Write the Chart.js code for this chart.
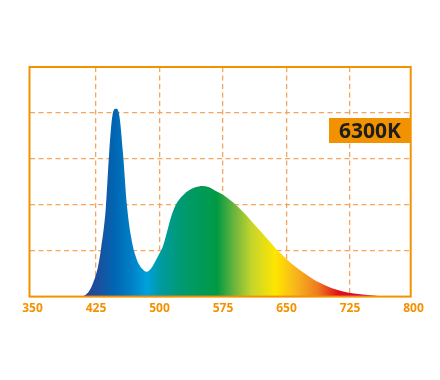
<!DOCTYPE html>
<html>
<head>
<meta charset="utf-8">
<script src="https://cdn.jsdelivr.net/npm/chart.js@4"></script>
<style>
  body { margin: 0; background: #fff; }
  #wrap { position: relative; width: 440px; height: 380px; }
  #tag {
    position: absolute; left: 329px; top: 118px; width: 82px; height: 25px;
    background: #f39200; color: #1d1d1b;
    font: bold 21px "Open Sans", sans-serif; line-height: 25px; text-align: center;
  }
</style>
</head>
<body>
<div id="wrap">
  <canvas id="chart" width="440" height="380"></canvas>
  <div id="tag">6300K</div>
</div>
<script>
// spectrum (wavelength nm / relative intensity)
var wavelengths = [397, 407, 412, 417, 422, 427, 431, 436.5, 440.5, 444.5, 448.5, 452.5, 457, 461.5, 466.5, 471.5, 476.5, 481.5, 485, 489.5, 494.5, 499.5, 504.5, 509.5, 514.5, 518.5, 523.5, 528.5, 534.5, 542.5, 550.5, 558.5, 566.5, 575, 583, 592, 602, 612, 622, 632, 638.5, 646.5, 656.5, 669.5, 681.5, 689.5, 701.5, 709.5, 722, 737, 749, 762, 777, 800];
var intensity = [0, 0, 0.03, 0.12, 0.32, 0.62, 1.05, 1.9, 3.1, 3.95, 4.09, 3.95, 3.1, 2.0, 1.3, 0.9, 0.68, 0.57, 0.54, 0.6, 0.75, 0.92, 1.12, 1.45, 1.78, 1.97, 2.12, 2.22, 2.31, 2.38, 2.41, 2.38, 2.3, 2.22, 2.11, 1.97, 1.78, 1.57, 1.37, 1.16, 1.02, 0.88, 0.71, 0.53, 0.38, 0.3, 0.2, 0.15, 0.09, 0.05, 0.03, 0.01, 0, 0];
var xTicks = [350, 425, 500, 575, 650, 725, 800];
var yTicks = [0, 1, 2, 3, 4, 5];

// colour of the fill along the wavelength axis
var spectrumStops = [
  [402, "#2b3990"], [427, "#1c4f9d"], [447, "#0066b3"], [467, "#0080c6"],
  [485, "#00a0dc"], [502, "#009aa0"], [527, "#009a70"], [568, "#009a44"],
  [588, "#6ab43e"], [609, "#c5d52c"], [637, "#ffe600"], [662, "#f7b31c"],
  [687, "#ee7b22"], [711, "#e30f17"], [737, "#d6004f"], [767, "#c8004b"]
];

var orange = "#f39200";
var gridOrange = "#f5a55c";

function spectrumFill(context) {
  var chart = context.chart;
  var area = chart.chartArea;
  if (!area) return "#0066b3";
  var xs = chart.scales.x;
  var g = chart.ctx.createLinearGradient(area.left, 0, area.right, 0);
  var w = area.right - area.left;
  spectrumStops.forEach(function (s) {
    var t = (xs.getPixelForValue(s[0]) - area.left) / w;
    g.addColorStop(Math.min(1, Math.max(0, t)), s[1]);
  });
  return g;
}

function innerGrid(first, last) {
  return function (c) {
    if (c.tick && (c.tick.value === first || c.tick.value === last)) return "rgba(0,0,0,0)";
    return gridOrange;
  };
}

var points = wavelengths.map(function (w, i) { return { x: w, y: intensity[i] }; });

var ctx = document.getElementById("chart");
var myChart = new Chart(ctx, {
  type: "line",
  data: {
    datasets: [
      {
        data: points,
        fill: "origin",
        backgroundColor: spectrumFill,
        borderWidth: 0,
        pointRadius: 0,
        cubicInterpolationMode: "monotone",
      },
    ],
  },
  options: {
    responsive: false,
    animation: false,
    layout: { padding: { left: 29.5, right: 29.3, top: 67, bottom: 59 } },
    plugins: { legend: { display: false }, tooltip: { enabled: false } },
    scales: {
      x: {
        type: "linear",
        // the frame sits a little outside the 350 / 800 marks
        min: 346.5,
        max: 796.7,
        z: 1,
        afterBuildTicks: function (axis) {
          axis.ticks = xTicks.map(function (v) { return { value: v }; });
        },
        grid: { color: innerGrid(350, 800), lineWidth: 1.3, drawTicks: false },
        border: { display: false, dash: [5, 3.5] },
        ticks: {
          color: orange,
          padding: 5,
          maxRotation: 0,
          font: { family: "'Open Sans', sans-serif", size: 12, weight: "bold" },
        },
      },
      y: {
        min: 0,
        max: 5,
        z: 1,
        afterBuildTicks: function (axis) {
          axis.ticks = yTicks.map(function (v) { return { value: v }; });
        },
        grid: { color: innerGrid(0, 5), lineWidth: 1.3, drawTicks: false },
        border: { display: false, dash: [5, 3.5] },
        ticks: { display: false },
      },
    },
  },
  plugins: [
    {
      id: "frame",
      afterDraw: function (chart) {
        var a = chart.chartArea;
        var c = chart.ctx;
        c.save();
        c.strokeStyle = orange;
        c.lineWidth = 2;
        c.strokeRect(a.left, a.top, a.right - a.left, a.bottom - a.top);
        c.restore();
      },
    },
  ],
});
</script>
</body>
</html>
